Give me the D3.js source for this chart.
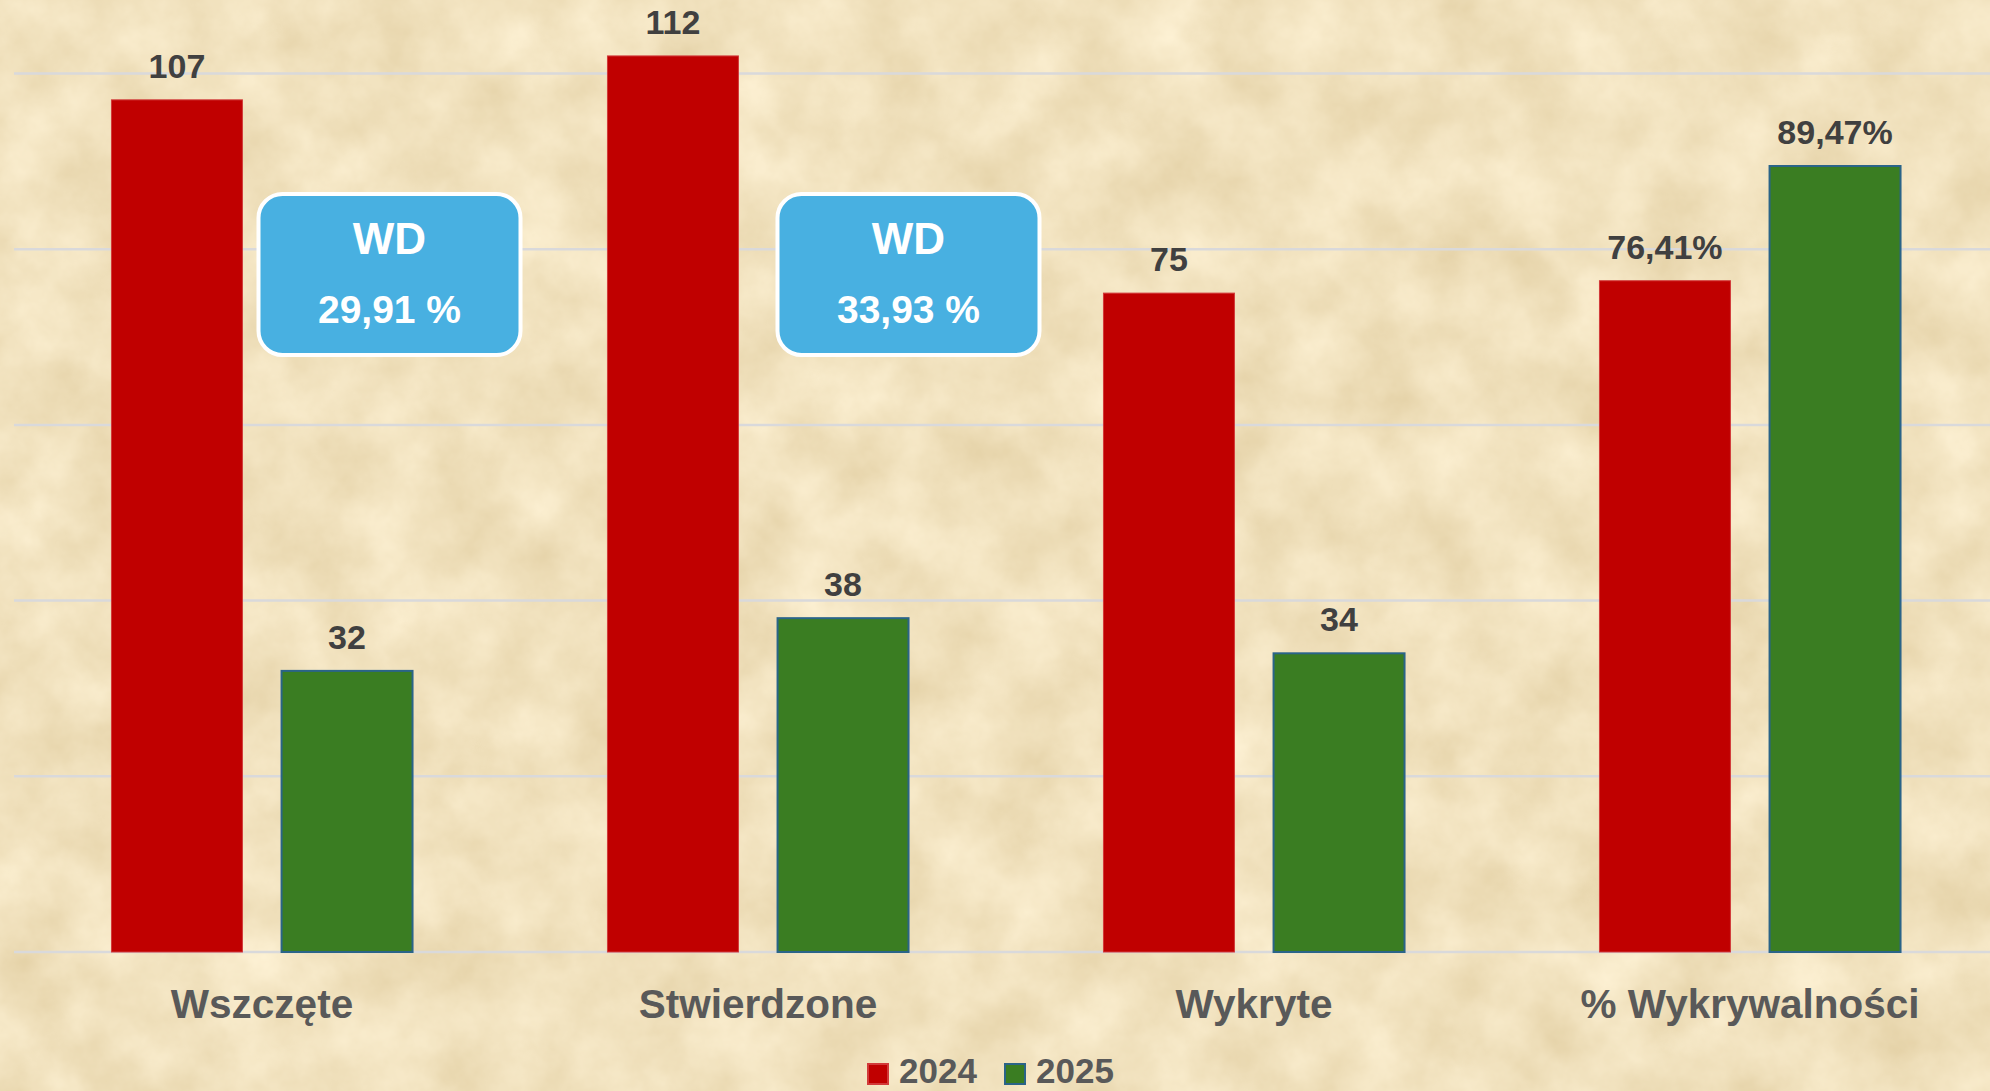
<!DOCTYPE html>
<html lang="pl">
<head>
<meta charset="utf-8">
<script src="https://cdn.jsdelivr.net/npm/d3@7"></script>
<style>
  html, body { margin: 0; padding: 0; background: #F1E2BE; overflow: hidden; }
  svg { display: block; }
  text { font-family: "Liberation Sans", Arial, "DejaVu Sans", sans-serif; font-weight: bold; }
</style>
</head>
<body>
<svg id="chart" width="1990" height="1091"></svg>
<script>
// ---------------- DATA ----------------
const categories = ["Wszczęte", "Stwierdzone", "Wykryte", "% Wykrywalności"];
const seriesNames = ["2024", "2025"];
// bar heights as drawn on the chart
const values2024 = [97, 102, 75, 76.41];
const values2025 = [32, 38, 34, 89.47];
// data labels as printed above the bars
const labels2024 = ["107", "112", "75", "76,41%"];
const labels2025 = ["32", "38", "34", "89,47%"];
const yTicks = [0, 20, 40, 60, 80, 100];
const wdTitles = ["WD", "WD"];
const wdValues = ["29,91 %", "33,93 %"];

// ---------------- LAYOUT ----------------
const W = 1990, H = 1091;
const svg = d3.select("#chart");

const colors = { "2024": "#C00000", "2025": "#3A7D22" };
const strokes = { "2024": "#D23A3A", "2025": "#2A6488" };

// parchment background
const defs = svg.append("defs");
const f = defs.append("filter").attr("id", "parch")
  .attr("x", 0).attr("y", 0).attr("width", "100%").attr("height", "100%")
  .attr("color-interpolation-filters", "sRGB");
f.append("feTurbulence").attr("type", "fractalNoise")
  .attr("baseFrequency", "0.014").attr("numOctaves", 5).attr("seed", 7).attr("result", "n");
f.append("feColorMatrix").attr("in", "n").attr("type", "matrix")
  .attr("values", "0.11 0 0 0 0.89  0.14 0 0 0 0.815  0.20 0 0 0 0.645  0 0 0 0 1");
svg.append("rect").attr("width", W).attr("height", H).attr("filter", "url(#parch)");

const y = d3.scaleLinear().domain([0, 100]).range([952, 73.5]);
const x0 = d3.scaleBand().domain(categories).range([14, 1998])
  .paddingInner(0.393).paddingOuter(0.1965);
const x1 = d3.scaleBand().domain(seriesNames).range([0, x0.bandwidth()]).paddingInner(0.23);

// gridlines
svg.append("g").selectAll("line").data(yTicks).join("line")
  .attr("x1", 14).attr("x2", W)
  .attr("y1", d => y(d)).attr("y2", d => y(d))
  .attr("stroke", "#D9D9DB").attr("stroke-width", 2.5);

const rows = categories.map((c, i) => ({
  cat: c,
  bars: [
    { s: "2024", v: values2024[i], lab: labels2024[i] },
    { s: "2025", v: values2025[i], lab: labels2025[i] }
  ]
}));

const groups = svg.append("g").selectAll("g").data(rows).join("g")
  .attr("transform", d => `translate(${x0(d.cat)},0)`);

groups.selectAll("rect").data(d => d.bars).join("rect")
  .attr("x", d => x1(d.s))
  .attr("y", d => y(d.v))
  .attr("width", x1.bandwidth())
  .attr("height", d => y(0) - y(d.v))
  .attr("fill", d => colors[d.s])
  .attr("stroke", d => strokes[d.s])
  .attr("stroke-width", d => d.s === "2025" ? 2 : 1);

groups.selectAll("text.val").data(d => d.bars).join("text")
  .attr("class", "val")
  .attr("x", d => x1(d.s) + x1.bandwidth() / 2)
  .attr("y", d => y(d.v) - 22)
  .attr("text-anchor", "middle")
  .attr("font-size", 34)
  .attr("fill", "#404040")
  .text(d => d.lab);

// category axis labels
svg.append("g").selectAll("text").data(categories).join("text")
  .attr("x", d => x0(d) + x0.bandwidth() / 2)
  .attr("y", 1018)
  .attr("text-anchor", "middle")
  .attr("font-size", 40.5)
  .attr("fill", "#595959")
  .text(d => d);

// WD annotation boxes
const boxCx = [389.5, 908.5];
const boxW = 262, boxTop = 194, boxH = 161;
const boxes = svg.append("g").selectAll("g").data(wdValues).join("g")
  .attr("transform", (d, i) => `translate(${boxCx[i] - boxW / 2},${boxTop})`);
boxes.append("rect")
  .attr("width", boxW).attr("height", boxH).attr("rx", 24).attr("ry", 24)
  .attr("fill", "#48B0E1").attr("stroke", "#FFFFFF").attr("stroke-width", 4);
boxes.append("text")
  .attr("x", boxW / 2).attr("y", 60).attr("text-anchor", "middle")
  .attr("font-size", 44).attr("fill", "#FFFFFF")
  .text((d, i) => wdTitles[i]);
boxes.append("text")
  .attr("x", boxW / 2).attr("y", 129).attr("text-anchor", "middle")
  .attr("font-size", 39).attr("fill", "#FFFFFF")
  .text(d => d);

// legend
const legendX = [868, 1005];
const leg = svg.append("g").selectAll("g").data(seriesNames).join("g")
  .attr("transform", (d, i) => `translate(${legendX[i]},0)`);
leg.append("rect")
  .attr("x", 0).attr("y", 1064).attr("width", 20).attr("height", 20)
  .attr("fill", d => colors[d]).attr("stroke", d => strokes[d]).attr("stroke-width", 2);
leg.append("text")
  .attr("x", 31).attr("y", 1083)
  .attr("font-size", 35).attr("fill", "#595959")
  .text(d => d);
</script>
</body>
</html>
